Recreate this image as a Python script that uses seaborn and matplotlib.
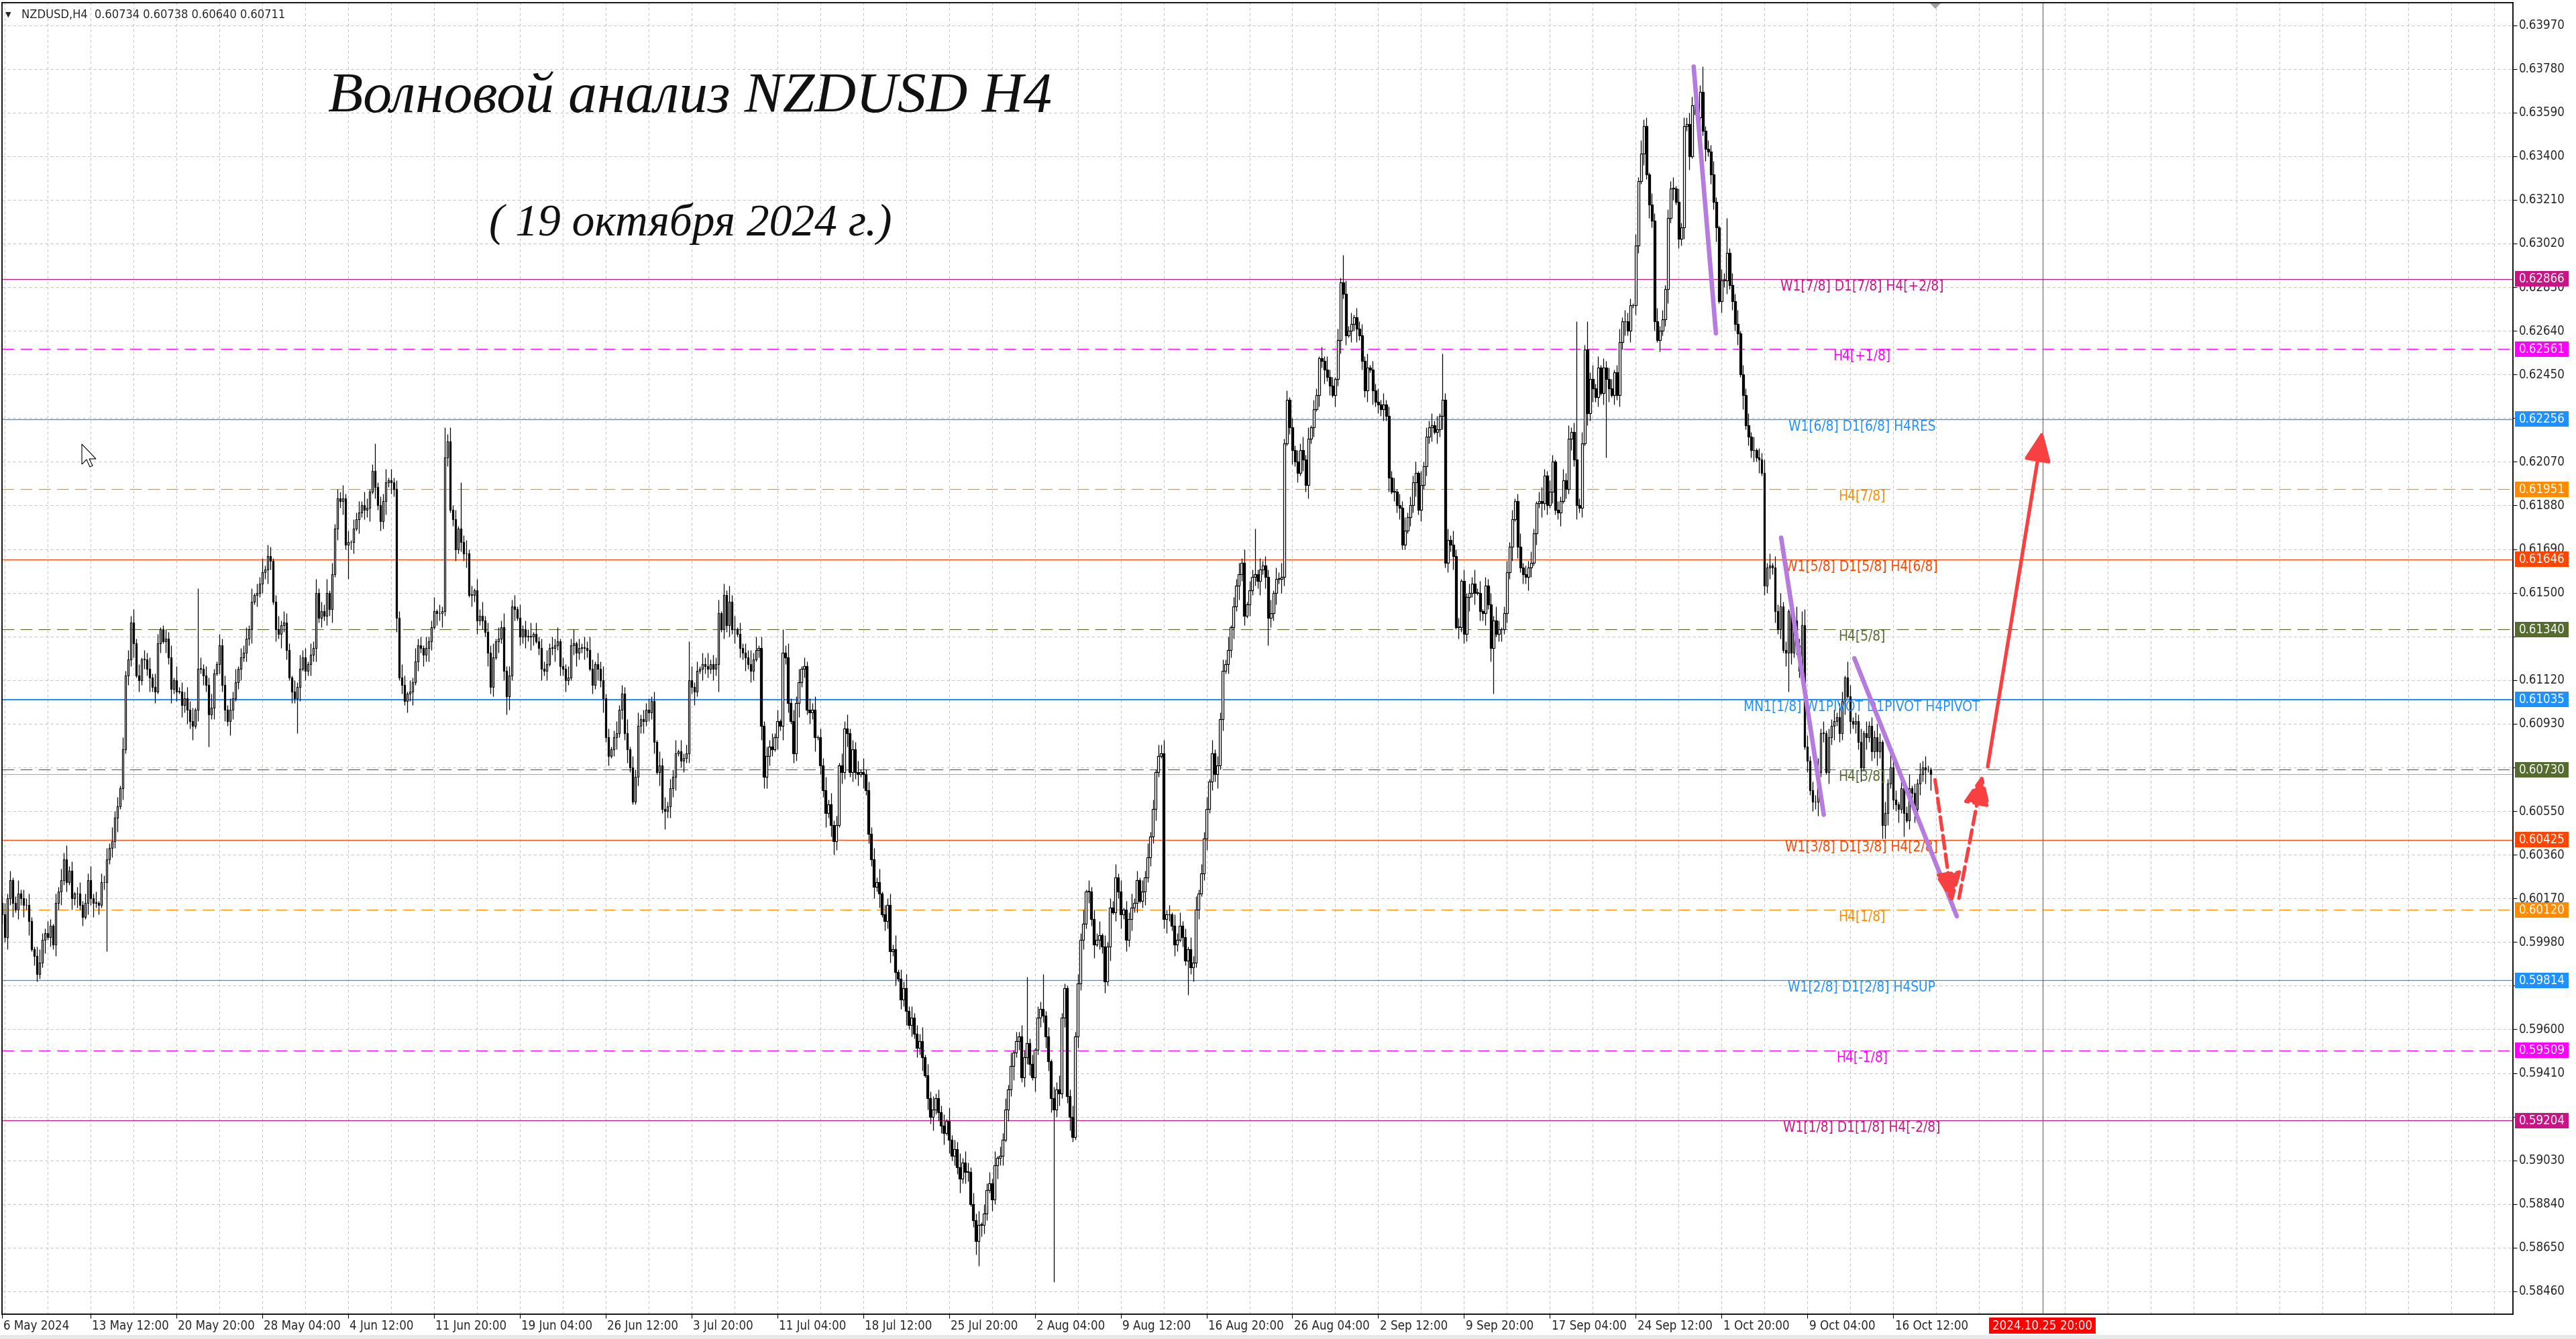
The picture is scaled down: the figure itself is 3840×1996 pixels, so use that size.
import numpy as np
import matplotlib
matplotlib.use("Agg")
import matplotlib.pyplot as plt
import seaborn as sns
from matplotlib import font_manager
from matplotlib.font_manager import FontProperties
from matplotlib import transforms as mtrans
from matplotlib.patches import Rectangle, Polygon

# ---------------- data (prices in pips, 0.0001 units) ----------------
close_may_jul = [
 6010,6000,6017,6025,6015,6012,6019,6017,6014,6014,
 6007,5995,5992,5984,5989,5999,6002,6000,6005,5997,
 6015,6020,6025,6034,6024,6029,6017,6019,6019,6014,
 6009,6015,6025,6017,6015,6015,6014,6024,6024,6034,
 6039,6042,6052,6057,6065,6082,6114,6121,6137,6128,
 6114,6112,6121,6121,6117,6113,6109,6107,6128,6134,
 6129,6130,6122,6108,6112,6107,6107,6101,6104,6099,
 6094,6092,6099,6117,6117,6114,6110,6097,6100,6115,
 6119,6127,6110,6099,6094,6099,6104,6111,6117,6122,
 6124,6130,6134,6146,6149,6150,6154,6159,6160,6166,
 6164,6146,6134,6132,6136,6137,6125,6113,6107,6104,
 6109,6117,6122,6116,6119,6123,6126,6150,6139,6142,
 6140,6150,6143,6158,6178,6191,6190,6191,6171,6172,
 6172,6178,6182,6185,6188,6186,6187,6194,6203,6196,
 6188,6181,6190,6198,6199,6198,6195,6139,6113,6110,
 6103,6106,6107,6111,6120,6127,6126,6123,6126,6129,
 6135,6142,6141,6141,6142,6209,6216,6186,6182,6169,
 6178,6172,6167,6167,6149,6149,6151,6138,6140,6138,
 6133,6124,6109]
close_jul = [
 6122,6129,6130,6135,6116,6105,6114,6144,6143,6139,
 6131,6134,6131,6131,6131,6132,6129,6126,6117,6116,
 6119,6126,6126,6127,6129,6118,6117,6112,6113,6127,
 6128,6124,6126,6126,6126,6125,6117,6110,6119,6117,
 6112,6104,6087,6079,6082,6087,6089,6099,6106,6089,
 6082,6074,6059,6070,6092,6095,6094,6099,6098,6103,
 6085,6072,6075,6056,6055,6057,6065,6070,6080,6081,
 6077,6078,6080,6112,6109,6107,6116,6117,6119,6118,
 6117,6119,6117,6119,6141,6134,6149,6136,6146,6134,
 6134,6132,6126,6124,6122,6119,6116,6121,6125,6126,
 6092,6070,6079,6083,6082,6087,6094,6092,6124,6122,
 6102,6094,6080,6102,6111,6117,6118,6099,6098,6099,
 6087,6087,6075,6064,6054,6058,6049,6042,6049,6075,
 6072,6091,6089,6072,6082,6072,6071,6072,6071,6064,
 6045,6034,6022,6024,6019,6010,6007,6014,5994,5995,
 5985,5982,5973,5978]
close_late_jul = [
 5968,5962,5965,5958,5952,5955,5948,5940,5930,5922,
 5925,5930,5924,5918,5915,5920,5912,5905,5908,5900,
 5895,5902,5898]
close_aug = [
 5898,5884,5877,5868,5875,5875,5880,5890,5893,5886,
 5901,5904,5905,5912,5925,5934,5944,5950,5955,5957,
 5939,5948,5954,5945,5939,5951,5965,5969,5966,5957,
 5946,5930,5925,5934,5932,5965,5978,5931,5922,5913,
 5957,5980,5999,6006,6020,6020,6008,5997,5999,6001,
 5996,5981,5996,6013,6011,6026,6020,6010,6012,5999,
 6008,6013,6015,6025,6016,6020,6026,6035,6044,6056,
 6072,6079,6080,6008,6010,6010,6005,5997,5999,6005,
 6000,5990,5995,5987,5989,6012,6019,6028,6043,6056,
 6068,6080,6071,6075,6095,6116,6119,6125,6135,6144,
 6153,6158,6163,6140,6145,6151,6157,6158,6155,6160,
 6162,6157,6139,6141,6150,6156,6156,6157,6215,6234,
 6222,6212,6207,6202,6212,6208,6197,6217,6222,6230,
 6236,6252,6251,6247,6244,6240,6236,6243,6260,6285,
 6280,6262,6264,6267,6270,6265,6262,6251,6238,6248,
 6247,6238,6233,6232,6230,6232,6227,6200,6194,6194,
 6188,6187,6171,6177,6183,6188,6198,6202,6186,6197,
 6205,6218,6222,6223,6220,6221,6227,6234,6163,6173,
 6171,6166,6135]
close_sep_oct = [
 6135,6155,6132,6148,6150,6154,6150,6150,6142,6141,
 6153,6145,6126,6138,6132,6134,6134,6141,6159,6170,
 6182,6190,6170,6161,6158,6157,6161,6163,6176,6189,
 6190,6189,6201,6188,6194,6207,6186,6185,6190,6199,
 6195,6217,6220,6208,6188,6187,6215,6256,6228,6243,
 6239,6235,6248,6237,6248,6243,6239,6236,6246,6236,
 6259,6268,6268,6264,6275,6275,6301,6329,6341,6353,
 6332,6319,6312,6268,6260,6264,6269,6282,6313,6326,
 6326,6320,6304,6309,6353,6354,6340,6362,6362,6357,
 6368,6351,6343,6342,6332,6320,6309,6277,6286,6286,
 6298,6284,6277,6267,6263,6245,6236,6223,6218,6212,
 6212,6209,6208,6202,6153,6161,6162,6161,6142,6134,
 6144,6125,6124,6142,6124,6138,6127,6116,6136,6083,
 6077,6064,6059,6059,6072,6089,6089,6072,6087,6092,
 6094,6096,6089,6103,6113,6105,6094,6093,6094,6085,
 6074,6089,6087,6092,6081,6087,6081,6085,6049,6054,
 6067,6074,6060,6058,6056,6065,6054,6051,6065,6063,
 6056,6067,6071,6074,6073,6073,6071]
first_open = 6015

# wick lengths (pips) per bar, upper and lower
upper_wick_rows = [
 "352413624352146325314253624135243625143526341524362514352641",
 "243516243546135243621534253614352614362541362543152634153624",
 "361524362514352641352436152436415263415236142536241536241536",
 "243615362435162436152436253614253614253641536241352436153624",
 "352416352436152436241536243615243615243636152436251436253614",
 "253614362524153624351624352614352614362524361536243516243625",
 "425361435261435261425362415362415362413524361524361524362514",
 "362415362415362415362415362435162435261435261436252436153624",
 "142536251431526341523625143526143625243615362435162435261435",
 "263415243625143526413524136243521463253142536241352436251435",
 "413625431526341536242435162435461352436215342536143526143625",
 "153624153636152436251435264135243615243641526341523614253624"]
lower_wick_rows = [
 "425361435261435261425362415362415362413524361524361524362514",
 "153624153636152436251435264135243615243641526341523614253624",
 "243615362435162436152436253614253614253641536241352436153624",
 "263415243625143526413524136243521463253142536241352436251435",
 "243516243546135243621534253614352614362541362543152634153624",
 "253614362524153624351624352614352614362524361536243516243625",
 "413625431526341536242435162435461352436215342536143526143625",
 "352413624352146325314253624135243625143526341524362514352641",
 "362415362415362415362415362435162435261435261436252436153624",
 "361524362514352641352436152436415263415236142536241536241536",
 "142536251431526341523625143526143625243615362435162435261435",
 "352416352436152436241536243615243615243636152436251436253614"]
high_override = {73: 6152, 139: 6215, 165: 6222, 171: 6198, 256: 6129, 271: 6153,
                 291: 6134, 315: 6097, 382: 5983, 388: 5984, 396: 5980, 432: 6084,
                 467: 6178, 500: 6297, 537: 6254, 587: 6268, 591: 6268, 631: 6372,
                 634: 6379, 643: 6313, 672: 6143, 688: 6120, 717: 6079, 719: 6074}
low_override = {14: 5982, 39: 5994, 77: 6083, 110: 6089, 129: 6156, 188: 6097,
                235: 6058, 247: 6047, 267: 6107, 284: 6065, 295: 6076, 310: 6036,
                364: 5857, 392: 5850, 442: 5975, 472: 6127, 523: 6169, 556: 6106,
                598: 6209, 666: 6107, 702: 6043, 709: 6044, 719: 6064}

time_tick_bars = [0, 33, 65, 97, 129, 161, 193, 225, 257, 289, 321, 353, 385, 417,
                  449, 481, 513, 545, 577, 609, 641, 673, 705]
time_tick_labels = ["6 May 2024", "13 May 12:00", "20 May 20:00", "28 May 04:00",
                    "4 Jun 12:00", "11 Jun 20:00", "19 Jun 04:00", "26 Jun 12:00",
                    "3 Jul 20:00", "11 Jul 04:00", "18 Jul 12:00", "25 Jul 20:00",
                    "2 Aug 04:00", "9 Aug 12:00", "16 Aug 20:00", "26 Aug 04:00",
                    "2 Sep 12:00", "9 Sep 20:00", "17 Sep 04:00", "24 Sep 12:00",
                    "1 Oct 20:00", "9 Oct 04:00", "16 Oct 12:00"]
price_ticks = [0.58460, 0.58650, 0.58840, 0.59030, 0.59220, 0.59410, 0.59600, 0.59790,
               0.59980, 0.60170, 0.60360, 0.60550, 0.60740, 0.60930, 0.61120, 0.61310,
               0.61500, 0.61690, 0.61880, 0.62070, 0.62260, 0.62450, 0.62640, 0.62830,
               0.63020, 0.63210, 0.63400, 0.63590, 0.63780, 0.63970]

levels = [0.62866, 0.62561, 0.62256, 0.61951, 0.61646, 0.61340, 0.61035,
          0.60730, 0.60425, 0.60120, 0.59814, 0.59509, 0.59204]
level_names = ["W1[7/8] D1[7/8] H4[+2/8]", "H4[+1/8]", "W1[6/8] D1[6/8] H4RES",
               "H4[7/8]", "W1[5/8] D1[5/8] H4[6/8]", "H4[5/8]",
               "MN1[1/8] W1PIVOT D1PIVOT H4PIVOT", "H4[3/8]",
               "W1[3/8] D1[3/8] H4[2/8]", "H4[1/8]", "W1[2/8] D1[2/8] H4SUP",
               "H4[-1/8]", "W1[1/8] D1[1/8] H4[-2/8]"]
level_colors = ["#C71585", "#FF00FF", "#1E90FF", "#FF8C00", "#FF4500", "#556B2F",
                "#1E90FF", "#556B2F", "#FF4500", "#FF8C00", "#1E90FF", "#FF00FF", "#C71585"]
level_dashed = [False, True, False, True, False, True, False, True, False, True,
                False, True, False]
bid_price = 0.60711
header_text = "NZDUSD,H4  0.60734 0.60738 0.60640 0.60711"
title_text = "Волновой анализ NZDUSD H4"
subtitle_text = "( 19 октября 2024 г.)"

# wave annotations (bar index, price)
wave1_bars, wave1_prices = [630.6, 638.9], [0.63790, 0.62629]
wave2_bars, wave2_prices = [663.2, 679.1], [0.61740, 0.60534]
wave3_bars, wave3_prices = [690.5, 728.7], [0.61215, 0.60092]
arrow_down = ((720.6, 0.60686), (727.0, 0.60150))
arrow_up_dashed = ((729.5, 0.60171), (738.3, 0.60710))
arrow_up_solid = ((740.2, 0.60743), (760.6, 0.62205))
marker_bar = 760.75
marker_label = "2024.10.25 20:00"

# ---------------- fonts ----------------
sns.set_style("white")
plt.rcParams['font.family'] = ['Liberation Sans', 'DejaVu Sans']


def _wt(f):
    w = f.weight
    if isinstance(w, str):
        w = font_manager.weight_dict.get(w, 400)
    return w


def pick_font():
    fl = [f for f in font_manager.fontManager.ttflist
          if f.style == "normal" and 350 <= _wt(f) <= 450]
    tests = [lambda f: f.name == "Liberation Sans Narrow",
             lambda f: f.name == "Arial Narrow",
             lambda f: f.name == "DejaVu Sans" and "condensed" in str(f.stretch),
             lambda f: "Narrow" in f.name and "Mono" not in f.name,
             lambda f: "Condensed" in f.name and "Mono" not in f.name,
             lambda f: f.name == "Liberation Sans",
             lambda f: f.name == "DejaVu Sans"]
    for t in tests:
        for f in fl:
            if t(f):
                return f.fname
    return None


_path = pick_font()
BASE_FP = FontProperties(fname=_path) if _path else FontProperties(family="DejaVu Sans")
SERIF_FP = FontProperties(family=["Liberation Serif", "DejaVu Serif"], style="italic")

W, H = 3840, 1996
fig = plt.figure(figsize=(W / 100, H / 100), dpi=100)
fig.patch.set_facecolor("white")
renderer = fig.canvas.get_renderer()


def fitted_size(sample, target_px, fp):
    t = fig.text(0, 0, sample, fontproperties=fp.copy())
    t.set_fontsize(20)
    w = t.get_window_extent(renderer).width
    t.remove()
    return 20 * target_px / w


fs_axis = fitted_size("0.63970", 69, BASE_FP)
fs_lvl = fitted_size("W1[7/8] D1[7/8] H4[+2/8]", 235, BASE_FP) * 1.04
fs_head = fitted_size(header_text, 395, BASE_FP)
fs_title = fitted_size(title_text, 1078, SERIF_FP)
fs_sub = fitted_size(subtitle_text, 600, SERIF_FP)


def fp(size):
    p = BASE_FP.copy()
    p.set_size(size)
    return p


AX_L, AX_R, AX_T, AX_B = 3, 3746, 4, 1959
ax = fig.add_axes([AX_L / W, 1 - AX_B / H, (AX_R - AX_L) / W, (AX_B - AX_T) / H])
ax.set_facecolor("white")
ax.set_xlim(0.25, 936.0)
ax.set_ylim(0.583607, 0.640678)
PPU = (AX_B - AX_T) / (0.640678 - 0.583607)  # pixels per price unit

# ---------------- candles ----------------
close = np.array(close_may_jul + close_jul + close_late_jul + close_aug + close_sep_oct,
                 dtype=float) / 10000.0
n = len(close)
openp = np.r_[first_open / 10000.0, close[:-1]]
uw = np.array([int(ch) for ch in "".join(upper_wick_rows)][:n]) / 10000.0
dw = np.array([int(ch) for ch in "".join(lower_wick_rows)][:n]) / 10000.0
high = np.maximum(openp, close) + uw
low = np.minimum(openp, close) - dw
for b, v in high_override.items():
    high[b] = max(v / 10000.0, max(openp[b], close[b]))
for b, v in low_override.items():
    low[b] = min(v / 10000.0, min(openp[b], close[b]))
x = np.arange(n)

# grid
for gb in range(1, 936, 16):
    ax.axvline(gb, color="#C4C4C4", lw=0.72, ls=(0, (4, 4)), zorder=0)
for pt in price_ticks:
    ax.axhline(pt, color="#C4C4C4", lw=0.72, ls=(0, (4, 4)), zorder=0)

# level lines
for lev, col, dsh in zip(levels, level_colors, level_dashed):
    lw = 1.5 if abs(lev - 0.61035) < 1e-6 else 0.85
    ax.axhline(lev, color=col, lw=lw, ls=(0, (15, 8)) if dsh else "-", zorder=1)
ax.axhline(bid_price, color="#A8A8A8", lw=0.8, zorder=1)

ax.vlines(x, low, high, color="black", lw=0.9, zorder=3)
up = close >= openp
body = np.maximum(np.abs(close - openp), 0.00002)
bottom = np.minimum(close, openp)
ax.bar(x[up], body[up], bottom=bottom[up], width=0.6, color="white",
       edgecolor="black", linewidth=0.9, zorder=4)
ax.bar(x[~up], body[~up], bottom=bottom[~up], width=0.6, color="black",
       edgecolor="black", linewidth=0.9, zorder=4)

# level labels
for lev, name, col in zip(levels, level_names, level_colors):
    ax.text(693.25, lev - 11 / PPU, name, color=col, ha="center", va="center",
            fontproperties=fp(fs_lvl), zorder=6)

# waves
purple = "#B57BDD"
for wb, wp in [(wave1_bars, wave1_prices), (wave2_bars, wave2_prices), (wave3_bars, wave3_prices)]:
    sns.lineplot(x=wb, y=wp, ax=ax, color=purple, lw=4.8, estimator=None, sort=False,
                 solid_capstyle="round", zorder=7)
red = "#F84040"
for (a, b), ls in [(arrow_down, "--"), (arrow_up_dashed, "--"), (arrow_up_solid, "-")]:
    ax.annotate("", xy=b, xytext=a,
                arrowprops=dict(arrowstyle="-|>,head_length=0.9,head_width=0.4",
                                color=red, lw=3.8, linestyle=ls, shrinkA=0, shrinkB=0,
                                mutation_scale=30), zorder=8)

# marker vertical line
ax.axvline(marker_bar, color="#B84040", lw=0.8, zorder=2)

# ---------------- axes styling ----------------
for s in ax.spines.values():
    s.set_color("black"); s.set_linewidth(1.3)
ax.yaxis.tick_right()
ax.set_yticks(price_ticks)
ax.set_yticklabels([])
ax.tick_params(axis="y", right=True, left=False, direction="out", length=4, width=0.8,
               colors="black")
ax.set_xticks(time_tick_bars)
ax.set_xticklabels([])
ax.tick_params(axis="x", bottom=True, direction="out", length=4, width=0.8, colors="black")
ax.set_xlabel(""); ax.set_ylabel("")

by = mtrans.blended_transform_factory(fig.transFigure, ax.transData)
for pt in price_ticks:
    # scale labels sitting under a coloured price box are hidden by it in the terminal
    if min(abs(pt - lv) for lv in levels) * PPU < 11:
        continue
    ax.text(3755 / W, pt, f"{pt:.5f}", transform=by, ha="left", va="center",
            fontproperties=fp(fs_axis), clip_on=False, zorder=5)

bx = mtrans.blended_transform_factory(ax.transData, fig.transFigure)
for tb, tl in zip(time_tick_bars, time_tick_labels):
    ax.text(tb + 0.6, 1 - 1977 / H, tl, transform=bx, ha="left", va="center",
            fontproperties=fp(fs_axis), clip_on=False)

# price boxes on the right scale
for lev, col in zip(levels, level_colors):
    ax.add_patch(Rectangle((3749 / W, lev - 11.5 / PPU), 80 / W, 23 / PPU, transform=by,
                           facecolor=col, edgecolor="none", clip_on=False, zorder=10))
    ax.text(3755 / W, lev, f"{lev:.5f}", transform=by, color="white", ha="left",
            va="center", fontproperties=fp(fs_axis), clip_on=False, zorder=11)

# time marker box
fig.patches.append(Rectangle((2965 / W, 1 - 1988 / H), 159 / W, 24 / H, transform=fig.transFigure,
                             facecolor="#FF0000", edgecolor="none"))
fig.text(3044.5 / W, 1 - 1976 / H, marker_label, color="white", ha="center", va="center",
         fontproperties=fp(fs_axis))

# header
fig.text(8 / W, 1 - 22 / H, "\u25BC", fontsize=fs_axis * 0.6, va="center", ha="left",
         family="DejaVu Sans")
fig.text(32 / W, 1 - 22 / H, header_text, fontproperties=fp(fs_head), va="center", ha="left")

# mouse cursor
cur = [(0, 0), (0, 30), (7, 23), (12, 34), (16, 32), (11, 22), (21, 22)]
fig.patches.append(Polygon([((122 + cx) / W, 1 - (662 + cy) / H) for cx, cy in cur],
                           closed=True, transform=fig.transFigure, facecolor="white",
                           edgecolor="black", lw=0.8))

# chart shift marker
fig.patches.append(Polygon([(2877 / W, 1 - 5 / H), (2893 / W, 1 - 5 / H), (2885 / W, 1 - 13 / H)],
                           closed=True, transform=fig.transFigure, facecolor="#A0A0A0",
                           edgecolor="none"))
# bottom window strip
fig.patches.append(Rectangle((0, 0), 1, 6 / H, transform=fig.transFigure,
                             facecolor="#E8E8E8", edgecolor="none"))

# titles
t_fp = SERIF_FP.copy(); t_fp.set_size(fs_title)
s_fp = SERIF_FP.copy(); s_fp.set_size(fs_sub)
fig.text(1029 / W, 1 - 147 / H, title_text, fontproperties=t_fp, ha="center",
         va="center", color="#111111")
fig.text(1029 / W, 1 - 333 / H, subtitle_text, fontproperties=s_fp, ha="center",
         va="center", color="#111111")

fig.savefig("out.png", dpi=100, facecolor="white")
